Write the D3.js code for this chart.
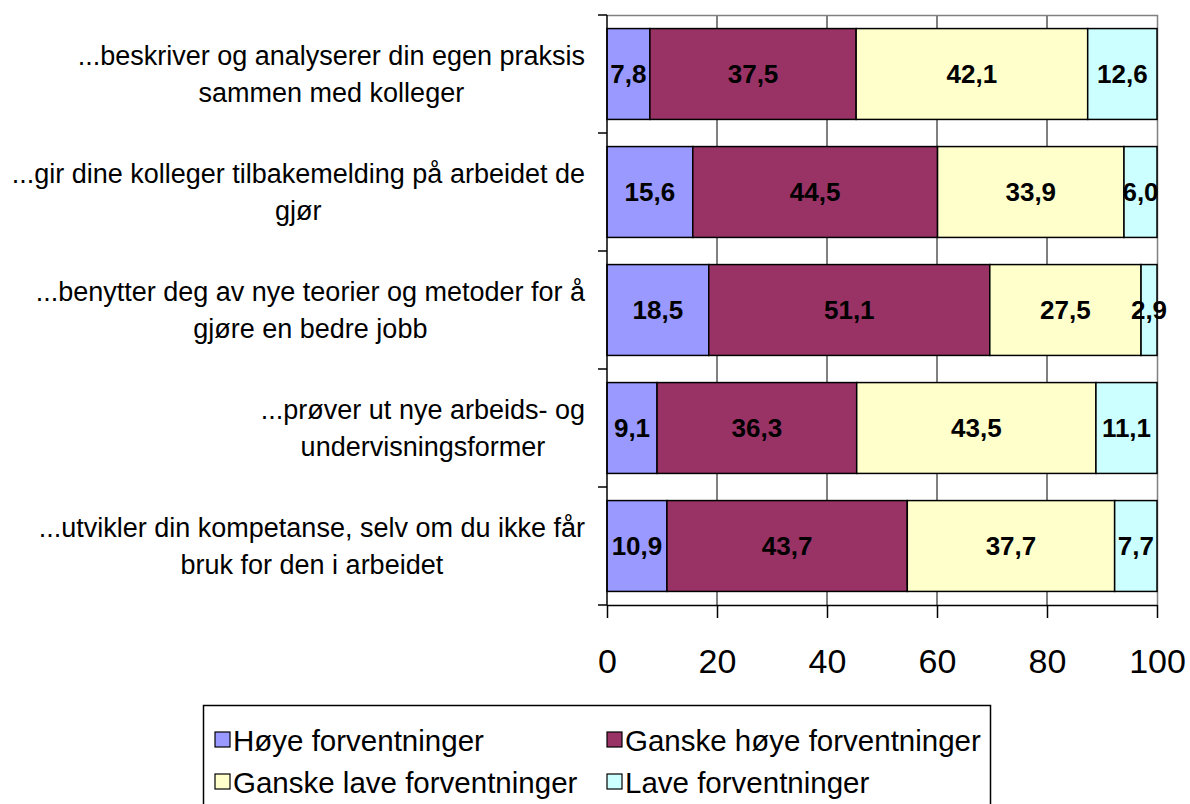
<!DOCTYPE html>
<html>
<head>
<meta charset="utf-8">
<script src="https://cdn.jsdelivr.net/npm/d3@7"></script>
<style>
  body { margin:0; background:#fff; }
  svg text { font-family: "Liberation Sans", Arial, sans-serif; }
</style>
</head>
<body>
<div id="chart"></div>
<script>
var categories = [
    ['...beskriver og analyserer din egen praksis', 'sammen med kolleger'],
    ['...gir dine kolleger tilbakemelding på arbeidet de', 'gjør'],
    ['...benytter deg av nye teorier og metoder for å', 'gjøre en bedre jobb'],
    ['...prøver ut nye arbeids- og', 'undervisningsformer'],
    ['...utvikler din kompetanse, selv om du ikke får', 'bruk for den i arbeidet']
]
var seriesNames  = ['Høye forventninger', 'Ganske høye forventninger', 'Ganske lave forventninger', 'Lave forventninger']
var seriesColors = ['#9999FF', '#993366', '#FFFFCC', '#CCFFFF']
var hoye        = [7.8, 15.6, 18.5, 9.1, 10.9]
var ganskeHoye  = [37.5, 44.5, 51.1, 36.3, 43.7]
var ganskeLave  = [42.1, 33.9, 27.5, 43.5, 37.7]
var lave        = [12.6, 6.0, 2.9, 11.1, 7.7]
var xTicks      = [0, 20, 40, 60, 80, 100]

var W = 1190, H = 804
var m = { top:15, right:33, bottom:199, left:607 }

var rows = categories.map((c, i)=> ({ id:i, label:c,
    values:[hoye[i], ganskeHoye[i], ganskeLave[i], lave[i]] }))

var svg = d3.select('#chart').append('svg')
    .attr('width', W).attr('height', H)

var x = d3.scaleLinear().domain([0, 100]).range([m.left, W-m.right])
var y = d3.scaleBand()
    .domain(rows.map(d=> d.id))
    .range([m.top, H-m.bottom])
    .paddingInner(0.23).paddingOuter(0.115)

// gridlines
svg.append('g').selectAll('line')
    .data(xTicks.slice(1, -1))
    .join('line')
    .attr('x1', d=> x(d)).attr('x2', d=> x(d))
    .attr('y1', m.top).attr('y2', H-m.bottom)
    .attr('stroke', '#000').attr('stroke-width', 1)

// top / right border
svg.append('path')
    .attr('d', 'M' + m.left + ',' + (m.top+0.5) + 'H' + (x(100)+0.5) + 'V' + (H-m.bottom))
    .attr('fill', 'none').attr('stroke', '#808080').attr('stroke-width', 1.5)

var stack = d3.stack().keys([0, 1, 2, 3]).value((d, k)=> d.values[k])
var layers = stack(rows)

var g = svg.append('g')
layers.forEach((layer, k)=> {
    g.append('g').selectAll('rect')
        .data(layer)
        .join('rect')
        .attr('x', d=> x(d[0]))
        .attr('width', d=> x(d[1]) - x(d[0]))
        .attr('y', (d, i)=> y(i))
        .attr('height', y.bandwidth())
        .attr('fill', seriesColors[k])
        .attr('stroke', '#000').attr('stroke-width', 1.5)
})

layers.forEach((layer, k)=> {
    g.append('g').selectAll('text')
        .data(layer)
        .join('text')
        .attr('x', d=> (x(d[0]) + x(d[1]))/2)
        .attr('y', (d, i)=> y(i) + y.bandwidth()/2)
        .attr('dy', '0.36em')
        .attr('text-anchor', 'middle')
        .attr('font-size', 26).attr('font-weight', 'bold')
        .text(d=> d3.format('.1f')(d[1]-d[0]).replace('.', ','))
})

// y axis (line + ticks at band boundaries)
var step = y.step()
var yBounds = d3.range(rows.length + 1).map(i=> m.top + i*step)
svg.append('line')
    .attr('x1', m.left).attr('x2', m.left)
    .attr('y1', m.top).attr('y2', H-m.bottom)
    .attr('stroke', '#000').attr('stroke-width', 1.5)
svg.append('g').selectAll('line')
    .data(yBounds)
    .join('line')
    .attr('x1', m.left-9).attr('x2', m.left)
    .attr('y1', d=> d).attr('y2', d=> d)
    .attr('stroke', '#000').attr('stroke-width', 1.5)

// x axis
var xAxis = svg.append('g')
    .attr('transform', 'translate(0,' + (H-m.bottom) + ')')
    .call(d3.axisBottom(x).tickValues(xTicks).tickSize(13).tickPadding(31).tickSizeOuter(0))
xAxis.select('.domain').attr('stroke', '#000').attr('stroke-width', 1.5)
xAxis.selectAll('.tick line').attr('stroke-width', 1.5)
xAxis.selectAll('.tick text')
    .attr('font-size', 34).attr('fill', '#000')
    .style('font-family', '"Liberation Sans", Arial, sans-serif')

// category labels, centred lines, block right aligned
var labelRight = 585
rows.forEach((r, i)=> {
    var cy = y(i) + y.bandwidth()/2
    var lg = svg.append('g')
    var texts = r.label.map((line, j)=> lg.append('text')
        .attr('y', cy + (j - (r.label.length-1)/2)*37)
        .attr('dy', '0.36em')
        .attr('text-anchor', 'middle')
        .attr('font-size', 27)
        .text(line))
    var maxW = d3.max(texts, t=> t.node().getComputedTextLength())
    texts.forEach(t=> t.attr('x', labelRight - maxW/2))
})

// legend
var lgX = 203, lgY = 705
svg.append('rect')
    .attr('x', lgX+0.5).attr('y', lgY+0.5)
    .attr('width', 787).attr('height', 120)
    .attr('fill', '#fff').attr('stroke', '#000').attr('stroke-width', 1.5)

var legendPos = [[215, 740], [607, 740], [215, 782], [607, 782]]
var leg = svg.append('g').selectAll('g')
    .data(seriesNames)
    .join('g')
    .attr('transform', (d, i)=> 'translate(' + legendPos[i][0] + ',' + legendPos[i][1] + ')')
leg.append('rect')
    .attr('x', 0).attr('y', -8).attr('width', 15).attr('height', 15)
    .attr('fill', (d, i)=> seriesColors[i])
    .attr('stroke', '#000').attr('stroke-width', 1.2)
leg.append('text')
    .attr('x', 18).attr('dy', '0.36em')
    .attr('font-size', 29.5)
    .text(d=> d)
</script>
</body>
</html>
